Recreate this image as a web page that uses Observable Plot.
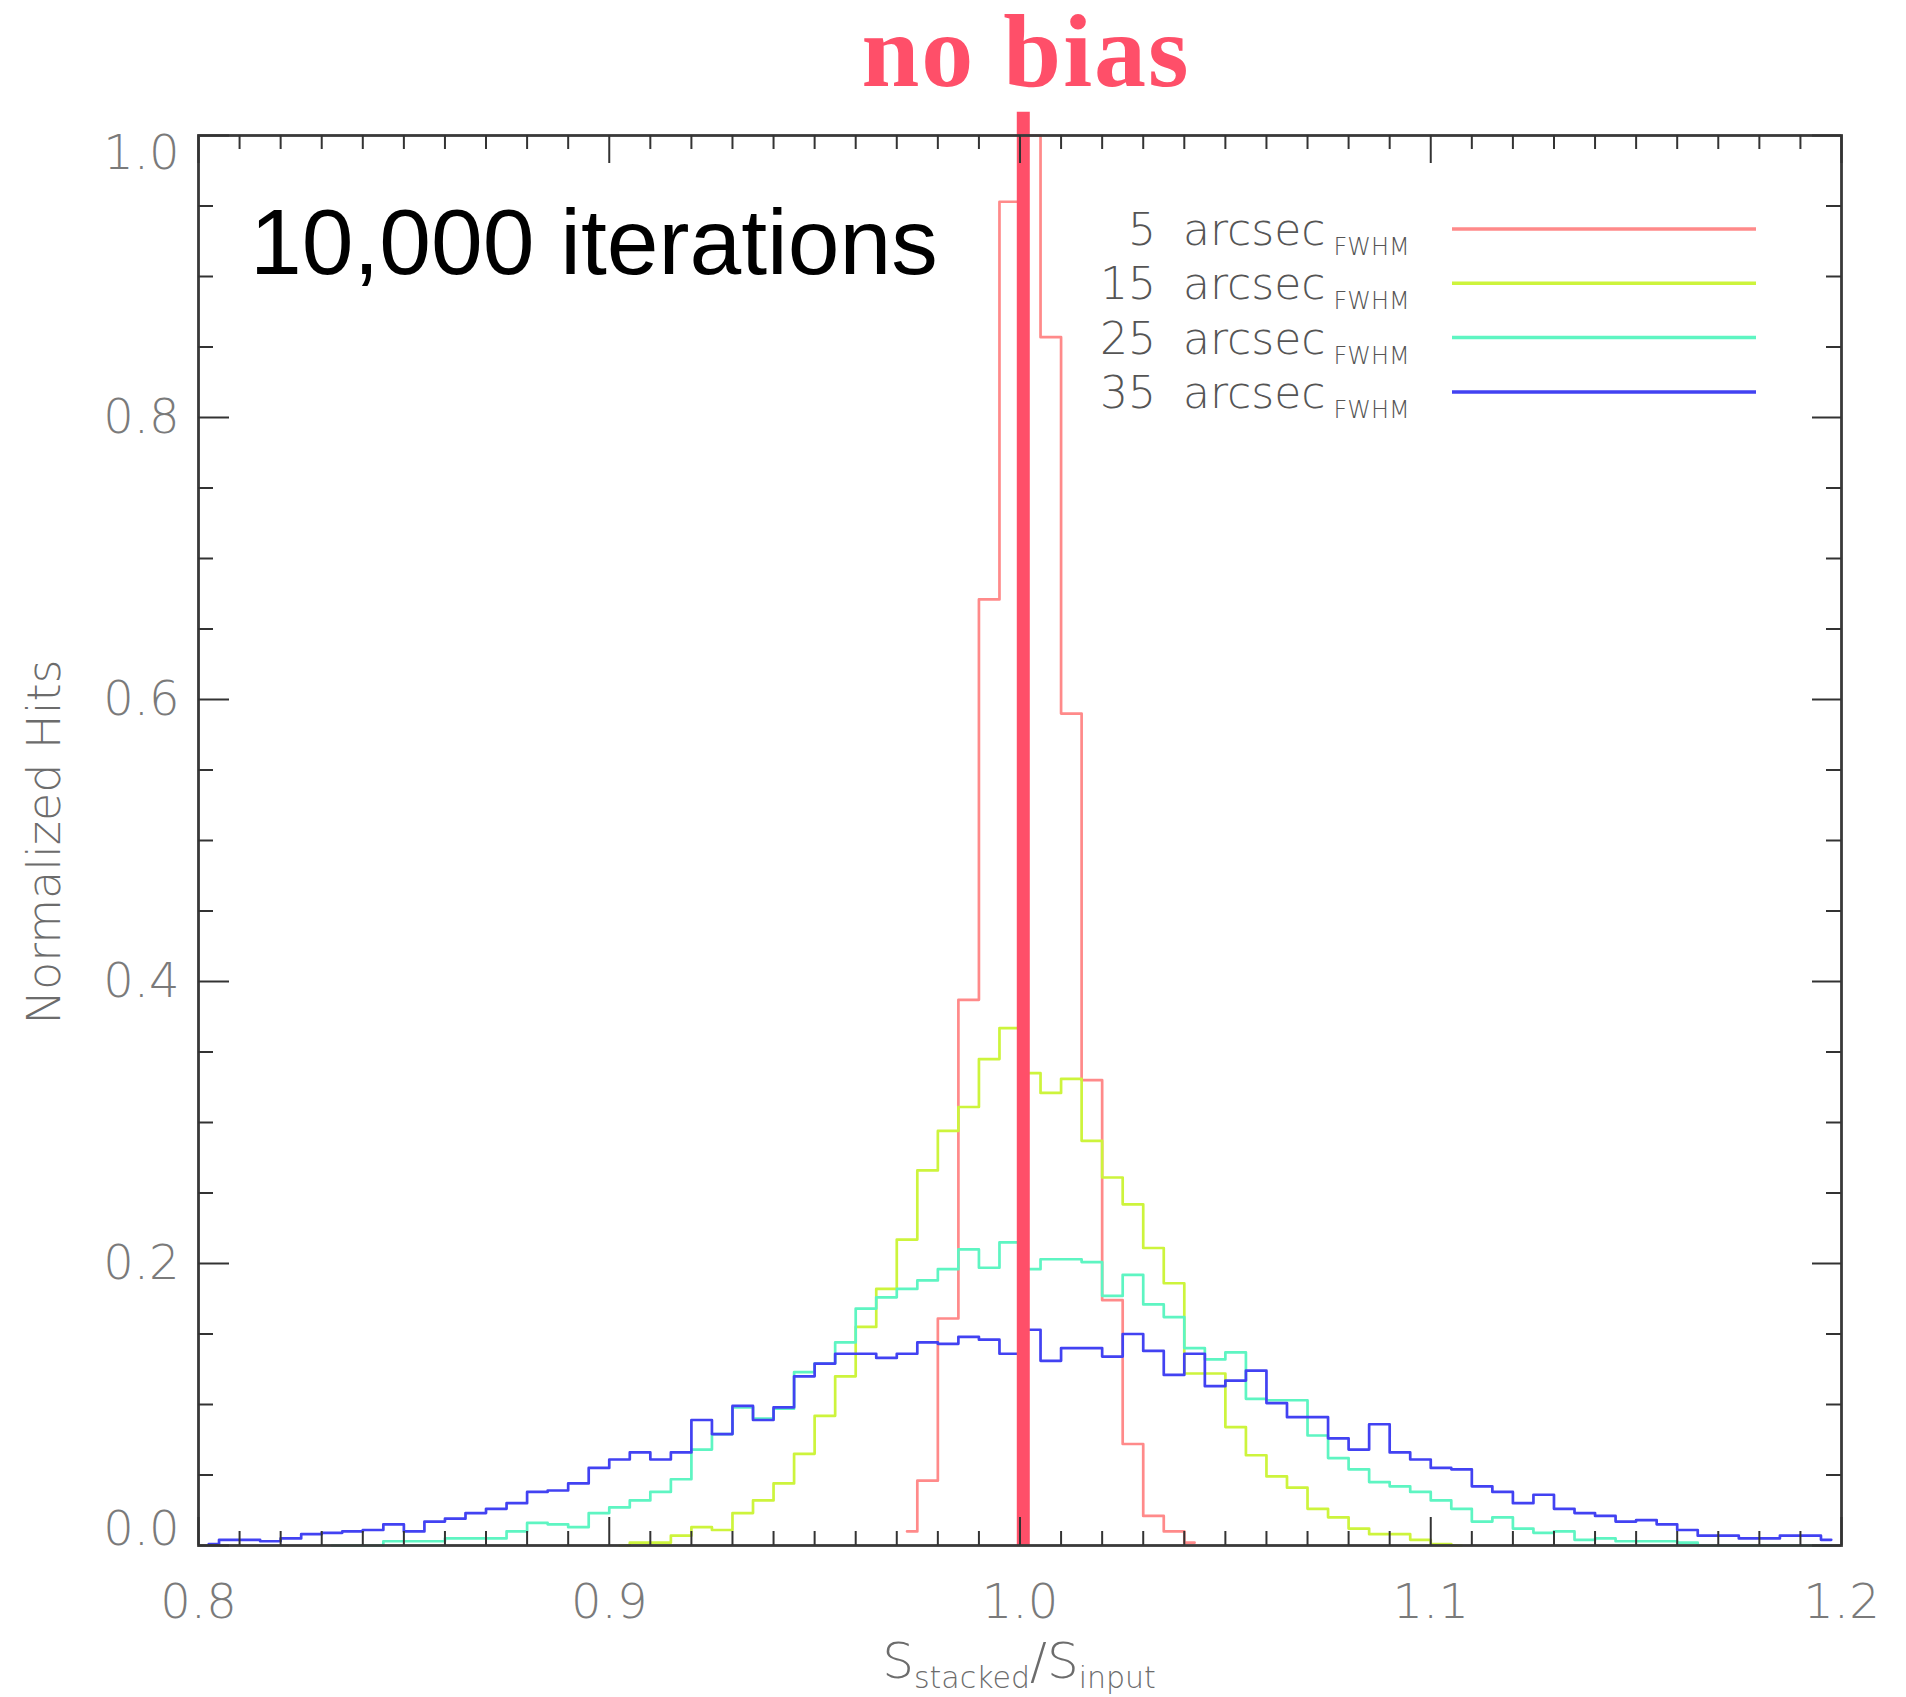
<!DOCTYPE html>
<html>
<head>
<meta charset="utf-8">
<script src="https://cdn.jsdelivr.net/npm/d3@7"></script>
<script src="https://cdn.jsdelivr.net/npm/@observablehq/plot@0.6"></script>
<style>
  html, body { margin: 0; padding: 0; background: #fff; overflow: hidden; }
  #chart svg { display: block; }
</style>
</head>
<body>
<div id="chart"></div>
<script>
// ---- data (normalized histogram hits, bins of width 0.005; first value is at the given bin centre) ----
const binWidth = 0.005;

const fwhm5Start = 0.9725;
const fwhm5 = [0.010, 0.046, 0.161, 0.387, 0.671, 0.953, 1.000, 0.857, 0.590, 0.330,
               0.174, 0.072, 0.021, 0.010, 0.002];

const fwhm15Start = 0.9025;
const fwhm15 = [0.000, 0.002, 0.002, 0.007, 0.013, 0.011, 0.023, 0.032, 0.044, 0.065,
                0.092, 0.120, 0.155, 0.182, 0.217, 0.266, 0.294, 0.311, 0.345, 0.367,
                0.335, 0.321, 0.331, 0.287, 0.261, 0.242, 0.211, 0.186, 0.122, 0.122,
                0.084, 0.064, 0.049, 0.041, 0.026, 0.020, 0.012, 0.008, 0.008, 0.004,
                0.001, 0.000];

const fwhm25Start = 0.8325;
const fwhm25 = [0.000, 0.000, 0.000, 0.003, 0.003, 0.003, 0.005, 0.005, 0.005, 0.010,
                0.016, 0.015, 0.013, 0.023,
                0.027, 0.032, 0.038, 0.047, 0.068, 0.079, 0.098, 0.090, 0.097, 0.123,
                0.129, 0.144, 0.168, 0.176, 0.182, 0.188, 0.196, 0.210, 0.197, 0.215,
                0.196, 0.203, 0.203, 0.201, 0.177, 0.192, 0.171, 0.162, 0.140, 0.132,
                0.137, 0.104, 0.103, 0.103, 0.078, 0.062, 0.054, 0.045, 0.042, 0.038,
                0.032, 0.026, 0.017, 0.020, 0.012, 0.009, 0.010, 0.004, 0.005, 0.003,
                0.003, 0.003, 0.002, 0.000, 0.000, 0.000, 0.000, 0.000, 0.000, 0.000];

const fwhm35Start = 0.8025;
const fwhm35 = [0.001, 0.004, 0.004, 0.003, 0.005, 0.008, 0.009, 0.010, 0.011, 0.015,
                0.010, 0.017, 0.019, 0.023, 0.026, 0.030, 0.038, 0.039, 0.044, 0.055,
                0.061, 0.066, 0.061, 0.066, 0.089, 0.079, 0.099, 0.089, 0.098, 0.120,
                0.129, 0.136, 0.136, 0.133, 0.136, 0.144, 0.143, 0.148, 0.146, 0.136,
                0.153, 0.131, 0.140, 0.140, 0.134, 0.150, 0.138, 0.121, 0.136, 0.113,
                0.117, 0.124, 0.101, 0.091, 0.091, 0.076, 0.068, 0.086, 0.066, 0.061,
                0.055, 0.054, 0.042, 0.038, 0.030, 0.036, 0.026, 0.023, 0.021, 0.017,
                0.018, 0.015, 0.011, 0.007, 0.007, 0.005, 0.005, 0.007, 0.007, 0.004];

const seriesNumbers = ["5", "15", "25", "35"];
const seriesColors = ["#ff8a8a", "#cdf43c", "#5ef5c2", "#4242f2"];

const xMajorTicks = [0.8, 0.9, 1.0, 1.1, 1.2];
const xTickLabels = ["0.8", "0.9", "1.0", "1.1", "1.2"];
const yMajorTicks = [0.0, 0.2, 0.4, 0.6, 0.8, 1.0];
const yTickLabels = ["0.0", "0.2", "0.4", "0.6", "0.8", "1.0"];
const xMinorStep = 0.01;
const yMinorStep = 0.05;

const noBiasX = 1.0008;
const noBiasTop = 1.0165;

// ---- build table ----
function toRows(values, start, label) {
  return values.map((v, i) => ({ x: +(start + i * binWidth).toFixed(4), y: v, s: label }));
}
const rows = [
  ...toRows(fwhm5, fwhm5Start, "5"),
  ...toRows(fwhm15, fwhm15Start, "15"),
  ...toRows(fwhm25, fwhm25Start, "25"),
  ...toRows(fwhm35, fwhm35Start, "35")
];

const xMinor = d3.range(0, 41).map(i => +(0.8 + i * xMinorStep).toFixed(3)).filter(v => !xMajorTicks.some(m => Math.abs(m - v) < 1e-9));
const yMinor = d3.range(0, 21).map(i => +(i * yMinorStep).toFixed(3)).filter(v => !yMajorTicks.some(m => Math.abs(m - v) < 1e-9));

const W = 1906, H = 1697;
const mL = 198, mR = 65, mT = 135, mB = 152;
const fw = W - mL - mR, fh = H - mT - mB;

const tickColor = "#333";
const labelColor = "#7a7a7a";
const fmtX = d => xTickLabels[xMajorTicks.findIndex(m => Math.abs(m - d) < 1e-9)];
const fmtY = d => yTickLabels[yMajorTicks.findIndex(m => Math.abs(m - d) < 1e-9)];
const axisFont = "DejaVu Sans, sans-serif";

const plot = Plot.plot({
  width: W, height: H,
  marginLeft: mL, marginRight: mR, marginTop: mT, marginBottom: mB,
  x: { domain: [0.8, 1.2], label: null },
  y: { domain: [0, 1], label: null },
  color: { domain: seriesNumbers, range: seriesColors },
  style: { background: "white", fontFamily: axisFont },
  marks: [
    Plot.line(rows, { x: "x", y: "y", z: "s", stroke: "s", curve: "step", strokeWidth: 2.7 }),
    Plot.ruleX([noBiasX], { x: d => d, y1: 0, y2: noBiasTop, stroke: "#ff4f69", strokeWidth: 13 }),
    Plot.frame({ stroke: "#3a3a3a", strokeWidth: 2.8 }),
    // inward ticks: bottom & top
    Plot.ruleX(xMinor, { x: d => d, insetTop: fh - 14, stroke: tickColor, strokeWidth: 2 }),
    Plot.ruleX(xMajorTicks, { x: d => d, insetTop: fh - 28, stroke: tickColor, strokeWidth: 2 }),
    Plot.ruleX(xMinor, { x: d => d, insetBottom: fh - 14, stroke: tickColor, strokeWidth: 2 }),
    Plot.ruleX(xMajorTicks, { x: d => d, insetBottom: fh - 28, stroke: tickColor, strokeWidth: 2 }),
    // inward ticks: left & right
    Plot.ruleY(yMinor, { y: d => d, insetRight: fw - 15, stroke: tickColor, strokeWidth: 2 }),
    Plot.ruleY(yMajorTicks, { y: d => d, insetRight: fw - 31, stroke: tickColor, strokeWidth: 2 }),
    Plot.ruleY(yMinor, { y: d => d, insetLeft: fw - 15, stroke: tickColor, strokeWidth: 2 }),
    Plot.ruleY(yMajorTicks, { y: d => d, insetLeft: fw - 29, stroke: tickColor, strokeWidth: 2 }),
    // tick labels
    Plot.axisX(xMajorTicks, { anchor: "bottom", tickSize: 0, tickPadding: 38, tickFormat: fmtX, fontSize: 48, fontWeight: 200, fill: labelColor, label: null }),
    Plot.axisY([0.2, 0.4, 0.6, 0.8], { anchor: "left", tickSize: 0, tickPadding: 19, tickFormat: fmtY, fontSize: 48, fontWeight: 200, fill: labelColor, label: null }),
    Plot.axisY([0.0], { anchor: "left", tickSize: 0, tickPadding: 19, tickFormat: fmtY, fontSize: 48, fontWeight: 200, fill: labelColor, label: null, dy: -16 }),
    Plot.axisY([1.0], { anchor: "left", tickSize: 0, tickPadding: 19, tickFormat: fmtY, fontSize: 48, fontWeight: 200, fill: labelColor, label: null, dy: 18 })
  ]
});

document.getElementById("chart").appendChild(plot);

// ---- annotations, legend, axis titles ----
const svg = d3.select(plot);
const ann = svg.append("g");

ann.append("text")
  .attr("x", 1026).attr("y", 86)
  .attr("text-anchor", "middle")
  .attr("font-family", "Liberation Serif, serif")
  .attr("font-weight", "bold")
  .attr("font-size", 104)
  .attr("letter-spacing", 2)
  .attr("fill", "#ff4f69")
  .text("no bias");

ann.append("text")
  .attr("x", 250).attr("y", 274)
  .attr("text-anchor", "start")
  .attr("font-family", "Liberation Sans, Arial, sans-serif")
  .attr("font-size", 93)
  .attr("fill", "#000")
  .text("10,000 iterations");

const legend = ann.append("g");
seriesNumbers.forEach((num, i) => {
  const ly = 229 + i * 54.3;
  legend.append("line")
    .attr("x1", 1452).attr("x2", 1756)
    .attr("y1", ly).attr("y2", ly)
    .attr("stroke", seriesColors[i]).attr("stroke-width", 3.5);
  legend.append("text")
    .attr("x", 1156).attr("y", ly + 16)
    .attr("text-anchor", "end")
    .attr("font-family", axisFont).attr("font-size", 44).attr("font-weight", 200)
    .attr("fill", "#555")
    .text(num);
  const t = legend.append("text")
    .attr("x", 1183).attr("y", ly + 16)
    .attr("text-anchor", "start")
    .attr("font-family", axisFont).attr("font-size", 44).attr("font-weight", 200)
    .attr("fill", "#555");
  t.append("tspan").text("arcsec");
  t.append("tspan").attr("dx", 8).attr("dy", 10).attr("font-size", 24).text("FWHM");
});

const xt = ann.append("text")
  .attr("x", 1019).attr("y", 1678)
  .attr("text-anchor", "middle")
  .attr("font-family", axisFont)
  .attr("font-weight", 200)
  .attr("fill", "#6c6c6c")
  .attr("font-size", 50);
xt.append("tspan").text("S");
xt.append("tspan").attr("font-size", 30).attr("dy", 10).text("stacked");
xt.append("tspan").attr("dy", -10).text("/S");
xt.append("tspan").attr("font-size", 30).attr("dy", 10).text("input");

ann.append("text")
  .attr("transform", "translate(60,842) rotate(-90)")
  .attr("text-anchor", "middle")
  .attr("font-family", axisFont)
  .attr("font-weight", 200)
  .attr("font-size", 46)
  .attr("fill", "#6c6c6c")
  .text("Normalized Hits");
</script>
</body>
</html>
